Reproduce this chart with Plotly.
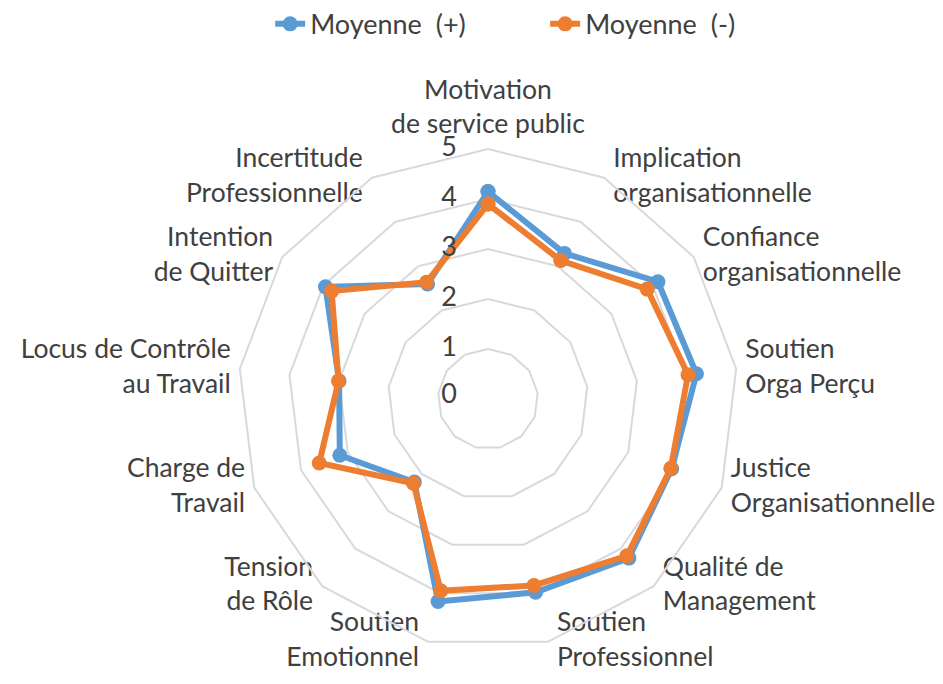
import plotly.graph_objects as go

# Categories (clockwise from the top)
categories = [
    "Motivation<br>de service public",
    "Implication<br>organisationnelle",
    "Confiance<br>organisationnelle",
    "Soutien<br>Orga Perçu",
    "Justice<br>Organisationnelle",
    "Qualité de<br>Management",
    "Soutien<br>Professionnel",
    "Soutien<br>Emotionnel",
    "Tension<br>de Rôle",
    "Charge de<br>Travail",
    "Locus de Contrôle<br>au Travail",
    "Intention<br>de Quitter",
    "Incertitude<br>Professionnelle",
]

# Series values
moyenne_plus = [4.15, 3.29, 4.13, 4.20, 3.93, 4.25, 3.98, 4.17, 2.22, 3.17, 3.00, 3.95, 2.60]
moyenne_moins = [3.90, 3.13, 3.87, 4.03, 3.91, 4.19, 3.84, 3.95, 2.25, 3.61, 3.01, 3.80, 2.64]

radial_ticks = [0, 1, 2, 3, 4, 5]

blue = "#5B9BD5"
orange = "#ED7D31"
grid = "#D9D9D9"
text_color = "#404040"
font_size = 27

# where each category label sits around its outer vertex (like Excel does)
label_pos = ["top center"] + ["middle right"] * 6 + ["middle left"] * 6

fig = go.Figure()

for name, vals, color in [("Moyenne  (+)", moyenne_plus, blue),
                          ("Moyenne  (-)", moyenne_moins, orange)]:
    fig.add_trace(go.Scatterpolar(
        r=vals + vals[:1],
        theta=categories + categories[:1],
        mode="lines+markers",
        name=name,
        line=dict(color=color, width=6),
        marker=dict(color=color, size=15),
    ))

# category labels on the outer ring; the invisible marker pads them outward
fig.add_trace(go.Scatterpolar(
    r=[radial_ticks[-1]] * len(categories),
    theta=categories,
    mode="markers+text",
    text=categories,
    textposition=label_pos,
    textfont=dict(size=26.5, color=text_color),
    marker=dict(size=13, color="rgba(0,0,0,0)"),
    cliponaxis=False,
    showlegend=False,
    hoverinfo="skip",
))

# radial value labels, left of the vertical axis as in Excel
# (the "0" label is nudged off the exact centre, where plotly drops it)
fig.add_trace(go.Scatterpolar(
    r=[max(t, 0.05) for t in radial_ticks],
    theta=[categories[0]] * len(radial_ticks),
    mode="markers+text",
    text=[str(t) for t in radial_ticks],
    textposition="middle left",
    textfont=dict(size=font_size, color=text_color),
    marker=dict(size=48, color="rgba(0,0,0,0)"),
    cliponaxis=False,
    showlegend=False,
    hoverinfo="skip",
))

fig.update_layout(
    width=943,
    height=684,
    margin=dict(l=0, r=0, t=0, b=0, autoexpand=False),
    paper_bgcolor="white",
    plot_bgcolor="white",
    font=dict(family="Lato, 'Open Sans', sans-serif", size=font_size, color=text_color),
    showlegend=True,
    legend=dict(
        orientation="h",
        x=0.278, xanchor="left",
        y=1.012, yanchor="top",
        entrywidth=230,
        entrywidthmode="pixels",
        font=dict(size=font_size, color=text_color),
    ),
    polar=dict(
        domain=dict(x=[0.2439, 0.7741], y=[0.0628, 0.7938]),
        bgcolor="white",
        gridshape="linear",
        radialaxis=dict(
            range=[0, 5],
            tickvals=radial_ticks[1:],
            angle=90,
            showticklabels=False,
            showline=False,
            ticks="",
            gridcolor=grid,
            gridwidth=2,
        ),
        angularaxis=dict(
            direction="clockwise",
            rotation=90,
            showgrid=False,
            showline=True,
            linecolor=grid,
            linewidth=2,
            showticklabels=False,
            ticks="",
        ),
    ),
)

fig.write_html("out.html")
